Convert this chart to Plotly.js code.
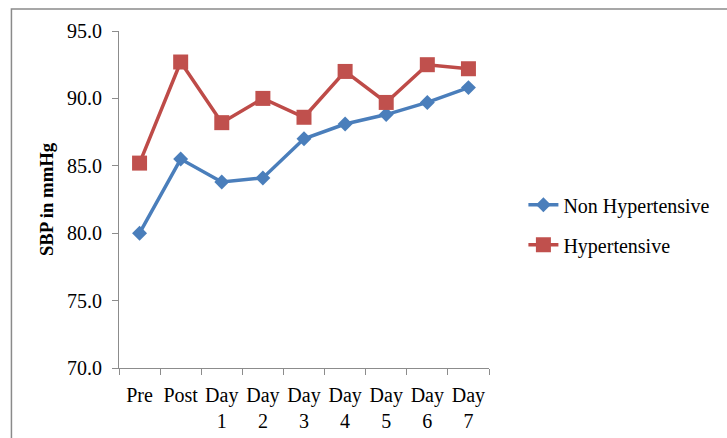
<!DOCTYPE html>
<html>
<head>
<meta charset="utf-8">
<script src="https://cdn.plot.ly/plotly-3.0.1.min.js"></script>
<style>
  html, body { margin: 0; padding: 0; background: #ffffff; }
  #chart { width: 727px; height: 438px; }
</style>
</head>
<body>
<div id="chart"></div>
<script>
// Time points of the measurement
const categories = ['Pre', 'Post', 'Day 1', 'Day 2', 'Day 3', 'Day 4', 'Day 5', 'Day 6', 'Day 7'];
const tickLabels = ['Pre', 'Post', 'Day<br>1', 'Day<br>2', 'Day<br>3', 'Day<br>4', 'Day<br>5', 'Day<br>6', 'Day<br>7'];

// Mean systolic blood pressure (mmHg) per group
const nonHypertensive = [80.0, 85.5, 83.8, 84.1, 87.0, 88.1, 88.8, 89.7, 90.8];
const hypertensive = [85.2, 92.7, 88.2, 90.0, 88.6, 92.0, 89.7, 92.5, 92.2];

const serif = '"Liberation Serif", "Times New Roman", serif';
const axisGrey = '#8c8c8c';

const traces = [
  {
    x: categories, y: nonHypertensive, name: 'Non Hypertensive',
    type: 'scatter', mode: 'lines+markers', legendgroup: 'a',
    line: { color: '#4A7EBB', width: 3.5 },
    marker: { symbol: 'diamond', size: 11.5, color: '#4A7EBB' }
  },
  {
    x: categories, y: hypertensive, name: 'Hypertensive',
    type: 'scatter', mode: 'lines+markers', legendgroup: 'b',
    line: { color: '#BE4B48', width: 3.5 },
    marker: { symbol: 'square', size: 15, color: '#C0504D' }
  }
];

const layout = {
  width: 727, height: 438,
  margin: { l: 119, r: 233, t: 31, b: 70 },
  paper_bgcolor: '#ffffff', plot_bgcolor: '#ffffff',
  font: { family: serif, size: 20, color: '#000000' },
  showlegend: true,
  legend: {
    x: 1.093, y: 0.425, xanchor: 'left', yanchor: 'middle',
    traceorder: 'grouped', tracegroupgap: 11,
    font: { family: serif, size: 20, color: '#000000' },
    bgcolor: 'rgba(0,0,0,0)'
  },
  xaxis: {
    type: 'category',
    tickvals: categories, ticktext: tickLabels,
    range: [-0.5, 8.5],
    showgrid: false, zeroline: false,
    showline: true, linecolor: axisGrey, linewidth: 1,
    ticks: 'outside', tickson: 'boundaries', ticklen: 6, tickcolor: axisGrey,
    ticklabelstandoff: 9,
    tickfont: { family: serif, size: 20, color: '#000000' },
    tickangle: 0, fixedrange: true
  },
  yaxis: {
    range: [70, 95], dtick: 5, tick0: 70, tickformat: '.1f',
    showgrid: false, zeroline: false,
    showline: true, linecolor: axisGrey, linewidth: 1,
    ticks: 'outside', ticklen: 6, tickcolor: axisGrey,
    ticklabelstandoff: 6,
    tickfont: { family: serif, size: 20, color: '#000000' },
    title: { text: '<b>SBP in mmHg</b>', font: { family: serif, size: 18.7, color: '#000000' }, standoff: 8 },
    fixedrange: true
  },
  shapes: [
    {
      type: 'rect', xref: 'paper', yref: 'paper', layer: 'below',
      x0: -0.2907, x1: 1.8, y0: -0.5, y1: 1.0653,
      line: { color: '#8a8a8a', width: 1.5 }, fillcolor: 'rgba(0,0,0,0)'
    }
  ]
};

Plotly.newPlot('chart', traces, layout, { displayModeBar: false, staticPlot: true });
</script>
</body>
</html>
